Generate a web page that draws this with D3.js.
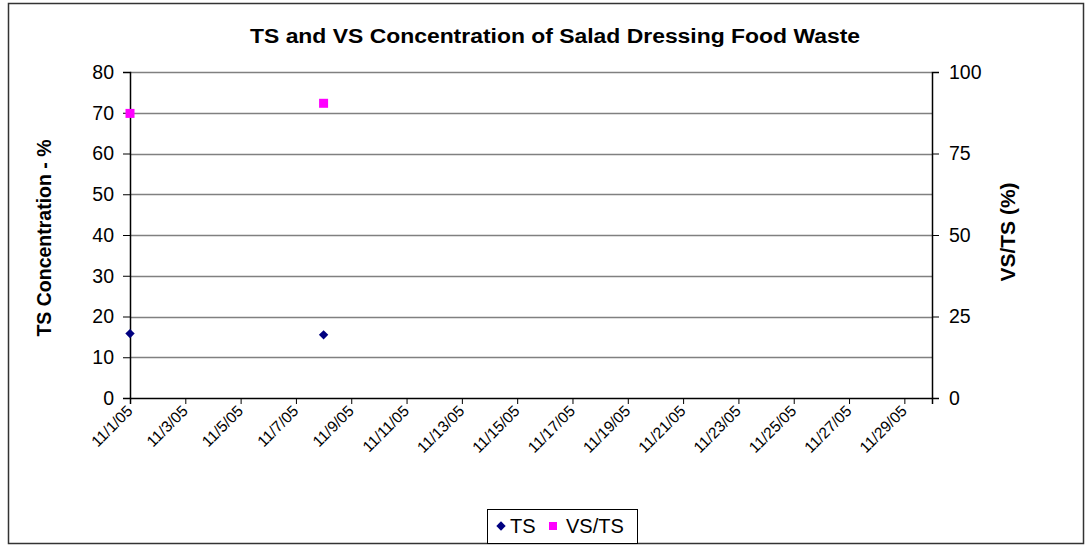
<!DOCTYPE html>
<html>
<head>
<meta charset="utf-8">
<script src="https://cdn.jsdelivr.net/npm/d3@7"></script>
<style>
  body { margin: 0; background: #fff; }
  text { font-family: Arial, "Liberation Sans", sans-serif; }
</style>
</head>
<body>
<div id="chart"></div>
<script>
// sample dates and values
var dates = ["2005-11-01", "2005-11-08"];
var tsValues = [15.8, 15.5];     // TS concentration, %
var vsValues = [87.3, 90.4];     // VS/TS, %
var leftTicks = [0, 10, 20, 30, 40, 50, 60, 70, 80];
var rightTicks = [0, 25, 50, 75, 100];

var width = 1090, height = 546;
var plot = {left: 130, right: 932, top: 72, bottom: 398};

var parse = d3.timeParse("%Y-%m-%d");
var fmt = function(d) { return (d.getMonth() + 1) + "/" + d.getDate() + "/" + d3.timeFormat("%y")(d); };

var svg = d3.select("#chart").append("svg")
    .attr("width", width)
    .attr("height", height);

// outer frame
svg.append("rect")
   .attr("x", 8.5).attr("y", 3.5)
   .attr("width", 1075).attr("height", 540)
   .attr("fill", "#fff").attr("stroke", "#333").attr("stroke-width", 1.5);

var x = d3.scaleTime()
    .domain([parse("2005-11-01"), parse("2005-11-30")])
    .range([plot.left, plot.right]);
var yL = d3.scaleLinear().domain([0, 80]).range([plot.bottom, plot.top]);
var yR = d3.scaleLinear().domain([0, 100]).range([plot.bottom, plot.top]);

// gridlines
svg.append("g").selectAll("line")
   .data(leftTicks.filter(function(d) { return d > 0; }))
   .join("line")
   .attr("x1", plot.left).attr("x2", plot.right)
   .attr("y1", function(d) { return Math.round(yL(d)) + 0.5; })
   .attr("y2", function(d) { return Math.round(yL(d)) + 0.5; })
   .attr("stroke", "#808080").attr("stroke-width", 1.5);

// left axis
var gL = svg.append("g")
    .attr("transform", "translate(" + plot.left + ",0)")
    .call(d3.axisLeft(yL).tickValues(leftTicks).tickSize(7).tickPadding(9));
// right axis
var gR = svg.append("g")
    .attr("transform", "translate(" + plot.right + ",0)")
    .call(d3.axisRight(yR).tickValues(rightTicks).tickSize(7).tickPadding(10));
// bottom axis
var xTicks = d3.range(0, 15).map(function(i) { return d3.timeDay.offset(parse("2005-11-01"), i * 2); });
var gX = svg.append("g")
    .attr("transform", "translate(0," + plot.bottom + ")")
    .call(d3.axisBottom(x).tickValues(xTicks).tickFormat(fmt).tickSize(6));

[gL, gR, gX].forEach(function(g) {
  g.select(".domain").attr("stroke", "#000").attr("stroke-width", 1.5);
  g.selectAll(".tick line").attr("stroke", "#000");
});
gL.selectAll("text").attr("font-size", 19.5).attr("fill", "#000");
gR.selectAll("text").attr("font-size", 19.5).attr("fill", "#000");
gX.selectAll("text")
  .attr("font-size", 15.5).attr("fill", "#000")
  .attr("text-anchor", "end")
  .attr("dy", null).attr("y", 0)
  .attr("transform", "translate(3,14) rotate(-45)");

// TS diamonds (rotated squares)
var diamond = d3.symbol().type(d3.symbolSquare).size(44);
svg.append("g").selectAll("path")
   .data(dates)
   .join("path")
   .attr("d", diamond)
   .attr("transform", function(d, i) { return "translate(" + x(parse(d)) + "," + yL(tsValues[i]) + ") rotate(45)"; })
   .attr("fill", "#000080");

// VS/TS squares
svg.append("g").selectAll("rect")
   .data(dates)
   .join("rect")
   .attr("x", function(d) { return x(parse(d)) - 4.5; })
   .attr("y", function(d, i) { return yR(vsValues[i]) - 4.5; })
   .attr("width", 9).attr("height", 9)
   .attr("fill", "#ff00ff");

// titles
svg.append("text")
   .attr("x", 555).attr("y", 43)
   .attr("text-anchor", "middle")
   .attr("font-size", 20).attr("font-weight", "bold")
   .attr("textLength", 610).attr("lengthAdjust", "spacingAndGlyphs")
   .text("TS and VS Concentration of Salad Dressing Food Waste");

svg.append("text")
   .attr("transform", "translate(51,238) rotate(-90)")
   .attr("text-anchor", "middle")
   .attr("font-size", 19.5).attr("font-weight", "bold")
   .text("TS Concentration - %");

svg.append("text")
   .attr("transform", "translate(1015,232) rotate(-90)")
   .attr("text-anchor", "middle")
   .attr("font-size", 21).attr("font-weight", "bold")
   .text("VS/TS (%)");

// legend
var lg = svg.append("g");
lg.append("rect")
  .attr("x", 487.5).attr("y", 509.5)
  .attr("width", 150).attr("height", 34)
  .attr("fill", "#fff").attr("stroke", "#000").attr("stroke-width", 1);
lg.append("path")
  .attr("d", diamond)
  .attr("transform", "translate(501,526) rotate(45)")
  .attr("fill", "#000080");
lg.append("text")
  .attr("x", 510).attr("y", 533)
  .attr("font-size", 20)
  .text("TS");
lg.append("rect")
  .attr("x", 549).attr("y", 522).attr("width", 8).attr("height", 8)
  .attr("fill", "#ff00ff");
lg.append("text")
  .attr("x", 566).attr("y", 533)
  .attr("font-size", 20)
  .text("VS/TS");
</script>
</body>
</html>
